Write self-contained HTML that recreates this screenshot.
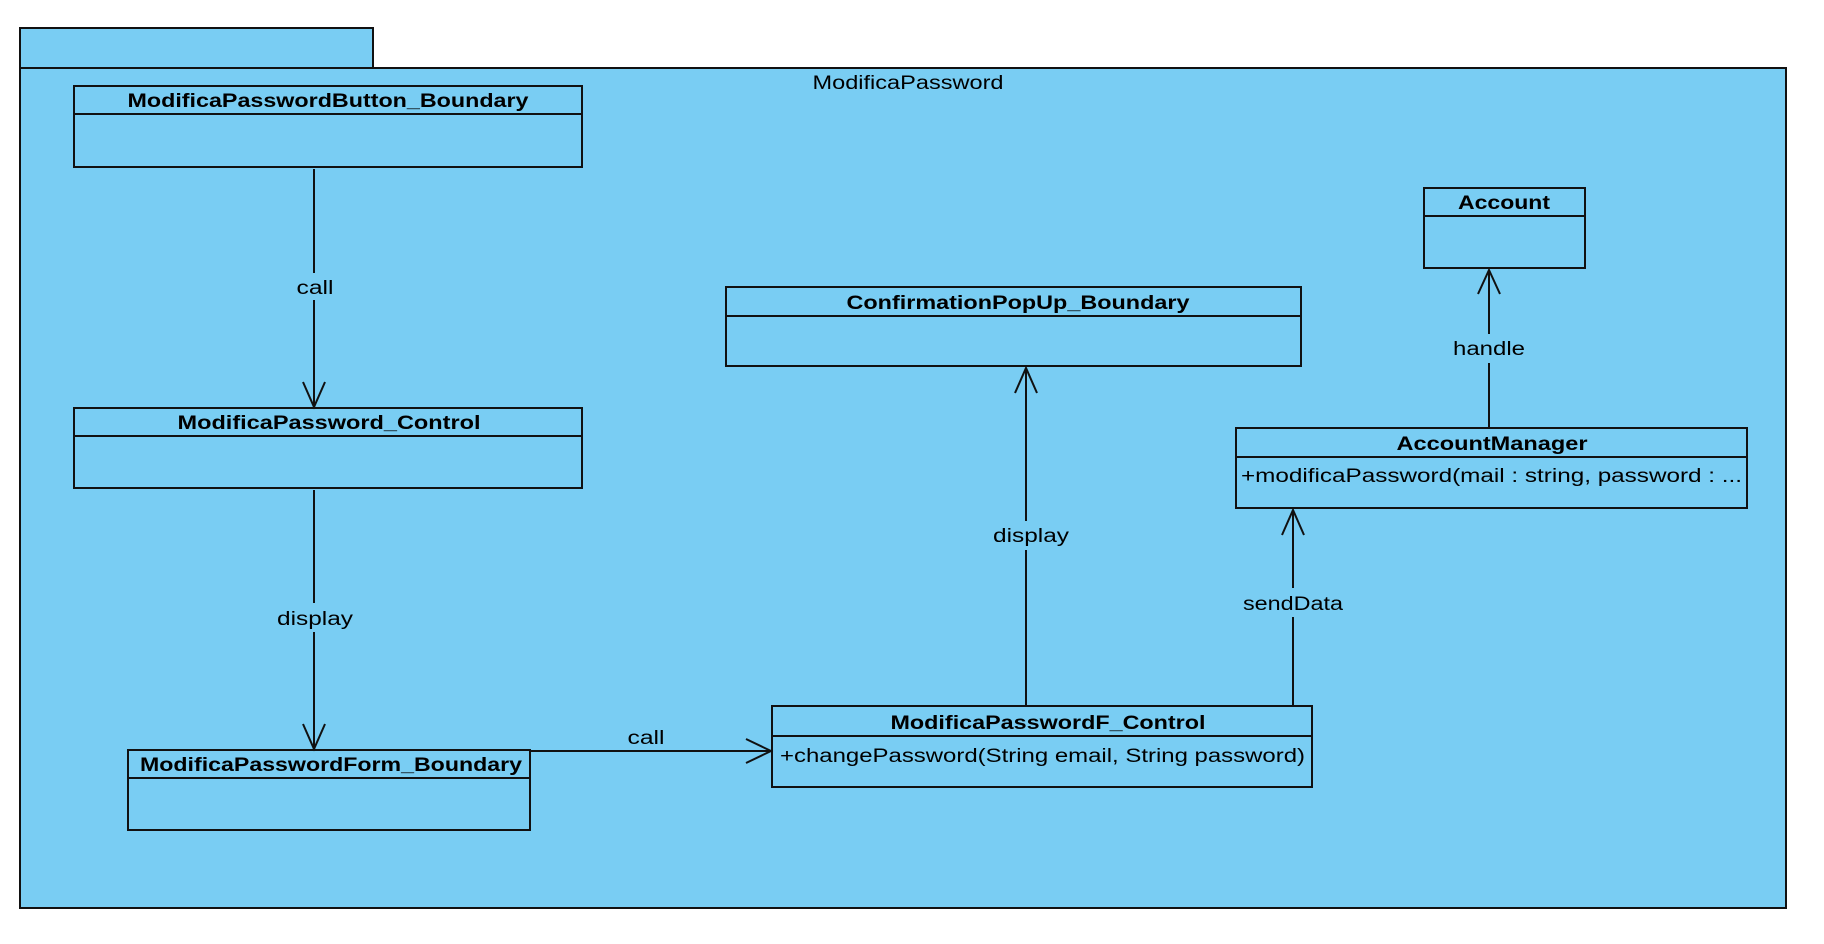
<!DOCTYPE html>
<html><head><meta charset="utf-8"><style>
html,body{margin:0;padding:0;background:#fff;}
svg{display:block;}
text{font-family:"Liberation Sans","DejaVu Sans",sans-serif;font-size:19px;fill:#000;}
.b{font-weight:bold;}
</style></head><body>
<svg width="1824" height="944" viewBox="0 0 1824 944" xmlns="http://www.w3.org/2000/svg">
<g stroke="#111" stroke-width="2" fill="#79cdf3">
<rect x="20" y="28" width="353" height="40"/>
<rect x="20" y="68" width="1766" height="840"/>
<rect x="74" y="86" width="508" height="81"/><line x1="74" y1="114" x2="582" y2="114"/>
<rect x="74" y="408" width="508" height="80"/><line x1="74" y1="436" x2="582" y2="436"/>
<rect x="128" y="750" width="402" height="80"/><line x1="128" y1="778" x2="530" y2="778"/>
<rect x="726" y="287" width="575" height="79"/><line x1="726" y1="316" x2="1301" y2="316"/>
<rect x="772" y="706" width="540" height="81"/><line x1="772" y1="736" x2="1312" y2="736"/>
<rect x="1424" y="188" width="161" height="80"/><line x1="1424" y1="216" x2="1585" y2="216"/>
<rect x="1236" y="428" width="511" height="80"/><line x1="1236" y1="457" x2="1747" y2="457"/>
</g>
<g stroke="#111" stroke-width="2" fill="none">
<line x1="314" y1="169" x2="314" y2="273"/><line x1="314" y1="300" x2="314" y2="407"/>
<polyline points="303,382 314,407 325,382"/>
<line x1="314" y1="490" x2="314" y2="603"/><line x1="314" y1="632" x2="314" y2="749"/>
<polyline points="303,724 314,749 325,724"/>
<line x1="530" y1="751" x2="771" y2="751"/>
<polyline points="746,739 771,751 746,763"/>
<line x1="1026" y1="705" x2="1026" y2="550"/><line x1="1026" y1="521" x2="1026" y2="368"/>
<polyline points="1015,393 1026,368 1037,393"/>
<line x1="1293" y1="705" x2="1293" y2="617"/><line x1="1293" y1="588" x2="1293" y2="510"/>
<polyline points="1282,535 1293,510 1304,535"/>
<line x1="1489" y1="427" x2="1489" y2="363"/><line x1="1489" y1="334" x2="1489" y2="270"/>
<polyline points="1478,294 1489,270 1500,294"/>
</g>
<text x="908" y="89" text-anchor="middle" textLength="191" lengthAdjust="spacingAndGlyphs">ModificaPassword</text>
<text class="b" x="328" y="107" text-anchor="middle" textLength="401" lengthAdjust="spacingAndGlyphs">ModificaPasswordButton_Boundary</text>
<text class="b" x="329" y="429" text-anchor="middle" textLength="303" lengthAdjust="spacingAndGlyphs">ModificaPassword_Control</text>
<text class="b" x="331" y="771" text-anchor="middle" textLength="382" lengthAdjust="spacingAndGlyphs">ModificaPasswordForm_Boundary</text>
<text class="b" x="1018" y="309" text-anchor="middle" textLength="343" lengthAdjust="spacingAndGlyphs">ConfirmationPopUp_Boundary</text>
<text class="b" x="1048" y="729" text-anchor="middle" textLength="315" lengthAdjust="spacingAndGlyphs">ModificaPasswordF_Control</text>
<text x="780" y="762" textLength="525" lengthAdjust="spacingAndGlyphs">+changePassword(String email, String password)</text>
<text class="b" x="1504" y="209" text-anchor="middle" textLength="92" lengthAdjust="spacingAndGlyphs">Account</text>
<text class="b" x="1492" y="450" text-anchor="middle" textLength="191" lengthAdjust="spacingAndGlyphs">AccountManager</text>
<text x="1241" y="482" textLength="501" lengthAdjust="spacingAndGlyphs">+modificaPassword(mail : string, password : ...</text>
<text x="315" y="294" text-anchor="middle" textLength="37" lengthAdjust="spacingAndGlyphs">call</text>
<text x="315" y="625" text-anchor="middle" textLength="76" lengthAdjust="spacingAndGlyphs">display</text>
<text x="646" y="744" text-anchor="middle" textLength="37" lengthAdjust="spacingAndGlyphs">call</text>
<text x="1031" y="542" text-anchor="middle" textLength="76" lengthAdjust="spacingAndGlyphs">display</text>
<text x="1293" y="610" text-anchor="middle" textLength="100" lengthAdjust="spacingAndGlyphs">sendData</text>
<text x="1489" y="355" text-anchor="middle" textLength="72" lengthAdjust="spacingAndGlyphs">handle</text>
</svg>
</body></html>
